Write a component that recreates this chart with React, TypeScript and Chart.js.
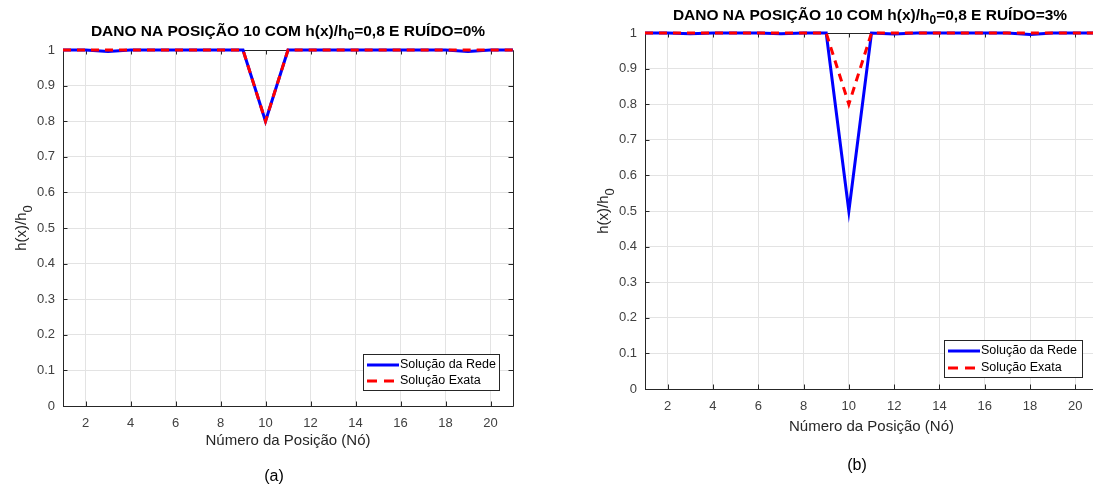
import React, { useEffect, useRef } from "react";
import { Chart, registerables } from "chart.js";

Chart.register(...registerables);

// ---------- data ----------
const nodes = [1, 2, 3, 4, 5, 6, 7, 8, 9, 10, 11, 12, 13, 14, 15, 16, 17, 18, 19, 20, 21];

const redeA = [1, 1, 0.996, 1, 1, 1, 1, 1, 1, 0.8, 1, 1, 1, 1, 1, 1, 1, 1, 0.996, 1, 1];
const exataA = [1, 1, 1, 1, 1, 1, 1, 1, 1, 0.8, 1, 1, 1, 1, 1, 1, 1, 1, 1, 1, 1];

const redeB = [1, 1, 0.998, 1, 1, 1, 0.998, 1, 1, 0.5, 1, 0.997, 1, 1, 1, 1, 1, 0.996, 1, 1, 1];
const exataB = [1, 1, 1, 1, 1, 1, 1, 1, 1, 0.8, 1, 1, 1, 1, 1, 1, 1, 1, 1, 1, 1];

const xTicks = [2, 4, 6, 8, 10, 12, 14, 16, 18, 20];
const yTicks = [0, 0.1, 0.2, 0.3, 0.4, 0.5, 0.6, 0.7, 0.8, 0.9, 1];

const seriesLabels = ["Solução da Rede", "Solução Exata"];
const titleA = ["DANO NA POSIÇÃO 10 COM h(x)/h", "0", "=0,8 E RUÍDO=0%"];
const titleB = ["DANO NA POSIÇÃO 10 COM h(x)/h", "0", "=0,8 E RUÍDO=3%"];
const yLabel = ["h(x)/h", "0"];
const xLabel = "Número da Posição (Nó)";

const FONT = "'Liberation Sans', Arial, Helvetica, sans-serif";
const AXIS = "#262626";
const TICKTXT = "#404040";

type Panel = {
  w: number;
  h: number;
  offsetX: number;
  area: { left: number; right: number; top: number; bottom: number };
  title: string[];
  titleX: number;
  titleY: number;
  yLabelX: number;
  xLabelY: number;
  capX: number;
  capY: number;
  caption: string;
  legend: { left: number; top: number; width: number; height: number; row1: number; row2: number };
  rede: number[];
  exata: number[];
};

const panels: Panel[] = [
  {
    w: 546,
    h: 489,
    offsetX: 0,
    area: { left: 63, right: 513, top: 50, bottom: 406 },
    title: titleA,
    titleX: 288,
    titleY: 32,
    yLabelX: 22,
    xLabelY: 441,
    capX: 274,
    capY: 477,
    caption: "(a)",
    legend: { left: 363, top: 354, width: 136, height: 36, row1: 365, row2: 381 },
    rede: redeA,
    exata: exataA,
  },
  {
    w: 560,
    h: 489,
    offsetX: 546,
    area: { left: 99, right: 552, top: 33, bottom: 389 },
    title: titleB,
    titleX: 324,
    titleY: 16,
    yLabelX: 58,
    xLabelY: 427,
    capX: 311,
    capY: 466,
    caption: "(b)",
    legend: { left: 398, top: 340, width: 138, height: 37, row1: 351, row2: 368 },
    rede: redeB,
    exata: exataB,
  },
];

function drawSubText(
  ctx: CanvasRenderingContext2D,
  parts: string[],
  cx: number,
  cy: number,
  mainFont: string,
  subFont: string,
  subShift: number
) {
  ctx.font = mainFont;
  const w0 = ctx.measureText(parts[0]).width;
  const w2 = parts[2] ? ctx.measureText(parts[2]).width : 0;
  ctx.font = subFont;
  const w1 = ctx.measureText(parts[1]).width;
  const total = w0 + w1 + w2;
  let x = cx - total / 2;
  ctx.textAlign = "left";
  ctx.textBaseline = "middle";
  ctx.font = mainFont;
  ctx.fillText(parts[0], x, cy);
  x += w0;
  ctx.font = subFont;
  ctx.fillText(parts[1], x, cy + subShift);
  x += w1;
  if (parts[2]) {
    ctx.font = mainFont;
    ctx.fillText(parts[2], x, cy);
  }
}

const decorPlugin = {
  id: "decor",
  beforeDatasetsDraw(chart: any) {
    const ctx = chart.ctx as CanvasRenderingContext2D;
    const { left, right, top, bottom } = chart.chartArea;
    const xs = chart.scales.x;
    const ys = chart.scales.y;
    ctx.save();
    ctx.strokeStyle = AXIS;
    ctx.lineWidth = 1;
    ctx.beginPath();
    ctx.rect(Math.round(left) + 0.5, Math.round(top) + 0.5, Math.round(right - left), Math.round(bottom - top));
    ctx.stroke();
    const tl = 4.5;
    ctx.beginPath();
    xTicks.forEach((v) => {
      const px = Math.round(xs.getPixelForValue(v)) + 0.5;
      ctx.moveTo(px, bottom);
      ctx.lineTo(px, bottom - tl);
      ctx.moveTo(px, top);
      ctx.lineTo(px, top + tl);
    });
    yTicks.forEach((v) => {
      const py = Math.round(ys.getPixelForValue(v)) + 0.5;
      ctx.moveTo(left, py);
      ctx.lineTo(left + tl, py);
      ctx.moveTo(right, py);
      ctx.lineTo(right - tl, py);
    });
    ctx.stroke();
    ctx.restore();
  },
  afterDraw(chart: any, _args: any, opts: any) {
    const p: Panel = opts.panel;
    const ctx = chart.ctx as CanvasRenderingContext2D;
    const { left, right, top, bottom } = chart.chartArea;
    const cx = (left + right) / 2;
    const cy = (top + bottom) / 2;
    ctx.save();
    // title
    ctx.fillStyle = "#000000";
    drawSubText(ctx, p.title, p.titleX, p.titleY, `bold 15.5px ${FONT}`, `bold 12px ${FONT}`, 5);
    // x label
    ctx.fillStyle = AXIS;
    ctx.font = `15px ${FONT}`;
    ctx.textAlign = "center";
    ctx.textBaseline = "middle";
    ctx.fillText(xLabel, cx, p.xLabelY);
    // caption
    ctx.fillStyle = "#000000";
    ctx.font = `16px ${FONT}`;
    ctx.fillText(p.caption, p.capX, p.capY);
    // y label
    ctx.save();
    ctx.translate(p.yLabelX, cy);
    ctx.rotate(-Math.PI / 2);
    ctx.fillStyle = AXIS;
    drawSubText(ctx, [yLabel[0], yLabel[1], ""], 0, 0, `15px ${FONT}`, `13px ${FONT}`, 6);
    ctx.restore();
    // legend
    const lg = p.legend;
    ctx.fillStyle = "#ffffff";
    ctx.fillRect(lg.left, lg.top, lg.width, lg.height);
    ctx.strokeStyle = AXIS;
    ctx.lineWidth = 1;
    ctx.strokeRect(lg.left + 0.5, lg.top + 0.5, lg.width, lg.height);
    const ds = chart.data.datasets;
    const rows = [lg.row1, lg.row2];
    ds.forEach((d: any, i: number) => {
      const y = rows[i];
      ctx.save();
      ctx.strokeStyle = d.borderColor;
      ctx.lineWidth = 3;
      ctx.setLineDash(i === 1 ? [10, 7] : []);
      ctx.beginPath();
      ctx.moveTo(lg.left + 4, y);
      ctx.lineTo(lg.left + 36, y);
      ctx.stroke();
      ctx.restore();
      ctx.fillStyle = "#000000";
      ctx.font = `12.5px ${FONT}`;
      ctx.textAlign = "left";
      ctx.textBaseline = "middle";
      ctx.fillText(d.label, lg.left + 37, y);
    });
    ctx.restore();
  },
};

function PanelChart({ p }: { p: Panel }) {
  const ref = useRef<HTMLCanvasElement | null>(null);
  useEffect(() => {
    if (!ref.current) return;
    const chart = new Chart(ref.current, {
      type: "line",
      data: {
        labels: nodes,
        datasets: [
          {
            label: seriesLabels[0],
            data: nodes.map((x, i) => ({ x, y: p.rede[i] })),
            borderColor: "#0000ff",
            backgroundColor: "#0000ff",
            borderWidth: 3,
            pointRadius: 0,
            tension: 0,
            clip: false as any,
            order: 1,
          },
          {
            label: seriesLabels[1],
            data: nodes.map((x, i) => ({ x, y: p.exata[i] })),
            borderColor: "#ff0000",
            backgroundColor: "#ff0000",
            borderWidth: 3,
            borderDash: [8, 6],
            pointRadius: 0,
            tension: 0,
            clip: false as any,
            order: 0,
          },
        ],
      },
      options: {
        responsive: false,
        animation: false,
        devicePixelRatio: 1,
        layout: {
          padding: { left: 0, top: p.area.top, right: p.w - p.area.right, bottom: 0 },
        },
        plugins: {
          legend: { display: false },
          tooltip: { enabled: false },
          title: { display: false },
          decor: { panel: p },
        } as any,
        scales: {
          x: {
            type: "linear",
            min: 1,
            max: 21,
            afterBuildTicks: (s: any) => {
              s.ticks = xTicks.map((v) => ({ value: v }));
            },
            afterFit: (s: any) => {
              s.height = p.h - p.area.bottom;
            },
            grid: { color: "#e3e3e3", drawTicks: false },
            border: { display: false },
            ticks: {
              padding: 10,
              color: TICKTXT,
              font: { family: FONT, size: 13 },
              maxRotation: 0,
              autoSkip: false,
              callback: (v: any) => String(v),
            },
          },
          y: {
            type: "linear",
            min: 0,
            max: 1,
            afterBuildTicks: (s: any) => {
              s.ticks = yTicks.map((v) => ({ value: v }));
            },
            afterFit: (s: any) => {
              s.width = p.area.left;
            },
            grid: { color: "#e3e3e3", drawTicks: false },
            border: { display: false },
            ticks: {
              padding: 8,
              color: TICKTXT,
              font: { family: FONT, size: 13 },
              autoSkip: false,
              callback: (v: any) => String(Math.round(Number(v) * 10) / 10),
            },
          },
        },
      },
      plugins: [decorPlugin as any],
    });
    return () => chart.destroy();
  }, [p]);
  return (
    <canvas
      ref={ref}
      width={p.w}
      height={p.h}
      style={{ position: "absolute", left: p.offsetX, top: 0, width: p.w, height: p.h }}
    />
  );
}

export default function App() {
  return (
    <div
      style={{
        position: "absolute",
        left: 0,
        top: 0,
        width: 1093,
        height: 489,
        overflow: "hidden",
        background: "#ffffff",
      }}
    >
      {panels.map((p, i) => (
        <PanelChart key={i} p={p} />
      ))}
    </div>
  );
}
